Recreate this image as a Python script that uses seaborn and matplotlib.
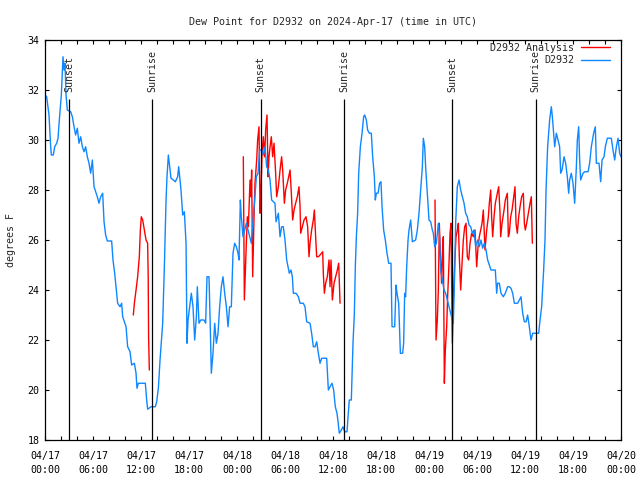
import matplotlib
matplotlib.use("Agg")
import matplotlib.pyplot as plt
import matplotlib.dates as mdates
import seaborn as sns
import pandas as pd

start = pd.Timestamp("2024-04-17 00:00")

# observed dew point at D2932 (hours after 04/17 00:00 UTC, deg F)
obs_hours = [0.0, 0.21, 0.5, 0.71, 0.79, 1.04, 1.21, 1.46, 1.63, 1.79, 2.04, 2.25, 2.38, 2.5, 2.63, 2.79,
             3.21, 3.42, 3.63, 3.83, 4.04, 4.25, 4.46, 4.67, 4.88, 5.08, 5.29, 5.5, 5.71, 5.92, 6.13, 6.33,
             6.54, 6.75, 6.96, 7.21, 7.38, 7.58, 7.79, 8.33, 8.5, 8.71, 8.92, 9.08, 9.38, 9.58, 9.71, 9.92,
             10.13, 10.33, 10.63, 10.83, 11.17, 11.38, 11.5, 11.67, 12.54, 12.71, 12.83, 13.25, 13.79, 13.96,
             14.17, 14.38, 14.71, 14.92, 15.13, 15.25, 15.42, 15.54, 15.75, 16.04, 16.29, 16.58, 16.71, 16.79,
             17.0, 17.21, 17.42, 17.63, 17.75, 17.88, 18.08, 18.29, 18.5, 18.71, 18.92, 19.04, 19.25, 19.46,
             19.88, 20.08, 20.25, 20.5, 20.67, 20.79, 21.0, 21.21, 21.42, 21.63, 21.83, 22.04, 22.25, 22.46,
             22.67, 22.88, 23.08, 23.29, 23.5, 23.71, 23.92, 24.13, 24.25, 24.42, 24.54, 24.75, 24.96, 25.17,
             25.38, 25.58, 25.79, 26.0, 26.21, 26.42, 26.63, 26.83, 27.08, 27.29, 27.5, 27.71, 27.92, 28.13,
             28.33, 28.75, 28.88, 29.17, 29.38, 29.58, 29.79, 30.0, 30.21, 30.54, 30.75, 30.92, 31.04, 31.38,
             31.67, 31.88, 32.29, 32.5, 32.71, 33.13, 33.33, 33.54, 33.75, 33.96, 34.17, 34.38, 34.58, 35.21,
             35.42, 35.63, 35.88, 36.08, 36.29, 36.5, 36.63, 36.79, 37.04, 37.25, 37.46, 37.75, 37.88, 38.04,
             38.29, 38.38, 38.5, 38.67, 38.79, 38.92, 39.08, 39.21, 39.42, 39.63, 39.83, 39.96, 40.17, 40.33,
             40.54, 40.79, 40.96, 41.17, 41.29, 41.42, 41.63, 41.83, 42.0, 42.13, 42.33, 42.54, 42.75, 42.96,
             43.25, 43.38, 43.71, 43.88, 44.0, 44.21, 44.42, 44.71, 44.83, 44.96, 45.08, 45.21, 45.38, 45.5,
             45.71, 45.92, 46.33, 46.54, 46.75, 46.96, 47.17, 47.29, 47.46, 47.58, 47.79, 48.0, 48.21, 48.42,
             48.54, 48.71, 48.92, 49.17, 49.33, 49.46, 49.67, 49.88, 50.08, 50.29, 50.5, 50.71, 50.92, 51.04,
             51.21, 51.33, 51.54, 51.75, 51.96, 52.17, 52.38, 52.58, 52.79, 53.0, 53.21, 53.42, 53.63, 53.83,
             54.08, 54.29, 54.5, 54.71, 54.92, 55.13, 55.33, 55.75, 56.29, 56.46, 56.58, 56.79, 57.0, 57.29,
             57.54, 57.83, 58.04, 58.25, 58.46, 58.67, 59.08, 59.29, 59.5, 59.71, 59.92, 60.13, 60.33, 60.54,
             60.75, 60.96, 61.71, 61.88, 62.08, 62.33, 62.5, 62.63, 62.83, 63.08, 63.29, 63.42, 63.58, 63.71,
             63.92, 64.13, 64.33, 64.46, 64.63, 64.88, 65.08, 65.29, 65.46, 65.58, 65.79, 66.0, 66.21, 66.42,
             66.54, 66.71, 66.83, 66.96, 67.25, 67.46, 67.88, 68.08, 68.29, 68.58, 68.79, 68.92, 69.25, 69.46,
             69.63, 69.88, 70.04, 70.29, 70.79, 71.0, 71.21, 71.42, 71.63, 71.83, 72.0]
obs_dewpt = [31.8, 31.73, 31.0, 29.73, 29.4, 29.4, 29.73, 29.87, 30.07, 30.8, 31.8, 33.33, 32.8, 33.07, 31.8, 31.2,
             31.13, 30.93, 30.53, 30.2, 30.47, 29.87, 30.13, 29.73, 29.53, 29.73, 29.33, 29.07, 28.67, 29.2, 28.13, 27.93,
             27.73, 27.47, 27.73, 27.87, 26.73, 26.2, 25.96, 25.96, 25.2, 24.67, 24.0, 23.47, 23.33, 23.47, 22.93, 22.73,
             22.53, 21.73, 21.53, 21.0, 21.07, 20.67, 20.07, 20.27, 20.27, 19.6, 19.23, 19.33, 19.33, 19.53,
             20.07, 21.2, 22.67, 24.93, 27.6, 28.53, 29.4, 29.07, 28.47, 28.4, 28.33, 28.53, 28.93, 28.67,
             28.0, 27.0, 27.13, 25.87, 21.87, 22.8, 23.33, 23.87, 23.33, 22.0, 22.93, 24.13, 22.67, 22.8,
             22.8, 22.67, 24.53, 24.53, 22.4, 20.67, 21.47, 22.67, 21.87, 22.27, 23.33, 24.13, 24.53, 23.87,
             23.33, 22.53, 23.33, 23.33, 25.47, 25.87, 25.73, 25.47, 25.2, 27.6, 26.93, 26.13, 26.4, 26.67,
             26.4, 26.13, 25.87, 26.8, 27.6, 28.53, 28.67, 29.6, 29.6, 29.4, 29.73, 28.93, 28.8, 28.4,
             27.6, 27.47, 26.73, 27.07, 26.13, 26.53, 26.53, 26.0, 25.2, 24.67, 24.8, 24.53, 23.87, 23.87,
             23.73, 23.47, 23.47, 23.33, 22.73, 22.67, 22.27, 21.73, 21.73, 21.93, 21.47, 21.07, 21.27, 21.27,
             20.0, 20.13, 20.27, 20.0, 19.33, 19.07, 18.73, 18.27, 18.4, 18.53, 18.33, 18.33, 18.93, 19.6,
             19.6, 20.53, 21.87, 23.07, 24.93, 26.13, 27.07, 28.67, 29.73, 30.27, 30.93, 31.0, 30.8, 30.4,
             30.27, 30.27, 29.33, 28.53, 27.6, 27.87, 27.87, 28.27, 28.33, 27.33, 26.4, 26.0, 25.47, 25.07,
             25.07, 22.53, 22.53, 24.2, 23.87, 23.47, 21.47, 21.47, 21.87, 23.87, 23.73, 24.93, 26.0, 26.4,
             26.8, 25.93, 26.0, 26.4, 27.07, 28.0, 28.93, 30.07, 29.73, 28.93, 27.87, 26.8, 26.73, 26.4,
             26.27, 25.73, 25.87, 26.67, 26.13, 24.8, 24.4, 24.0, 23.87, 23.6, 23.33, 23.07, 22.8, 22.67,
             24.67, 26.67, 28.13, 28.4, 28.0, 27.73, 27.47, 27.07, 26.93, 26.6, 26.53, 26.27, 26.4, 25.73,
             26.0, 25.73, 26.0, 25.67, 25.87, 25.6, 25.2, 24.8, 24.8, 23.87, 24.27, 24.27, 23.87, 23.73,
             23.87, 24.13, 24.13, 24.07, 23.87, 23.47, 23.47, 23.6, 23.73, 23.07, 22.73, 22.73, 23.0, 22.53,
             22.0, 22.27, 22.27, 22.8, 23.33, 24.8, 26.0, 28.0, 29.73, 30.8, 31.33, 30.93, 30.27, 29.73,
             30.27, 30.0, 29.73, 28.67, 28.8, 29.33, 29.07, 28.53, 27.87, 28.4, 28.67, 28.27, 27.47, 28.93,
             30.0, 30.53, 29.2, 28.4, 28.67, 28.73, 28.73, 29.07, 29.73, 30.27, 30.53, 29.07, 29.07, 28.33,
             29.2, 29.33, 29.73, 30.07, 30.07, 29.6, 29.2, 29.73, 30.07, 29.47, 29.33]

# analysis runs (drawn as three separate pieces)
ana1_hours = [11.04, 11.17, 11.38, 11.58, 11.79, 11.92, 12.04, 12.21, 12.42, 12.63, 12.83, 12.9, 12.95, 13.04]
ana1_dewpt = [23.0, 23.47, 24.0, 24.53, 25.33, 26.4, 26.93, 26.8, 26.4, 26.0, 25.87, 24.53, 22.13, 20.8]

ana2_hours = [24.79, 24.92, 25.08, 25.29, 25.42, 25.63, 25.75, 25.83, 25.96, 26.13, 26.25, 26.46, 26.58, 26.75,
              26.88, 27.0, 27.13, 27.29, 27.46, 27.58, 27.75, 27.88, 28.0, 28.13, 28.29, 28.46, 28.63, 28.83,
              28.96, 29.17, 29.38, 29.58, 29.71, 29.92, 30.08, 30.29, 30.46, 30.63, 30.75, 30.96, 31.13, 31.33,
              31.54, 31.75, 31.88, 31.96, 32.17, 32.38, 32.63, 32.83, 33.0, 33.13, 33.33, 33.54, 33.67, 33.83,
              33.96, 34.17, 34.38, 34.71, 34.79, 34.92, 35.08, 35.29, 35.5, 35.63, 35.75, 35.92, 36.13, 36.33,
              36.54, 36.71, 36.88]
ana2_dewpt = [29.33, 23.6, 25.07, 26.93, 26.53, 28.4, 27.73, 28.8, 24.53, 26.93, 28.27, 29.2, 30.0, 30.53,
              27.07, 28.0, 29.47, 30.13, 29.33, 30.4, 31.0, 28.53, 29.33, 29.73, 30.13, 29.33, 29.87, 28.67,
              27.73, 28.13, 28.8, 29.33, 28.8, 27.47, 28.0, 28.27, 28.53, 28.8, 28.13, 26.8, 27.2, 27.47,
              27.73, 28.13, 27.33, 26.27, 26.53, 26.8, 26.93, 26.53, 25.33, 25.87, 26.4, 26.8, 27.2, 26.13,
              25.33, 25.33, 25.4, 25.53, 24.67, 23.87, 24.27, 24.53, 25.2, 24.13, 25.2, 23.6, 24.27, 24.53,
              24.8, 25.07, 23.47]

ana3_hours = [48.75, 48.88, 49.04, 49.17, 49.29, 49.46, 49.58, 49.71, 49.79, 49.92, 50.04, 50.21, 50.33, 50.5,
              50.63, 50.75, 50.92, 51.04, 51.21, 51.38, 51.54, 51.67, 51.79, 51.96, 52.13, 52.29, 52.46, 52.63,
              52.79, 52.96, 53.13, 53.33, 53.54, 53.75, 53.96, 54.13, 54.29, 54.46, 54.63, 54.79, 55.0, 55.21,
              55.42, 55.54, 55.71, 55.83, 55.96, 56.13, 56.29, 56.54, 56.71, 56.88, 56.96, 57.13, 57.38, 57.54,
              57.79, 57.92, 58.04, 58.21, 58.38, 58.54, 58.75, 58.88, 59.04, 59.21, 59.38, 59.58, 59.79, 59.92,
              60.04, 60.21, 60.42, 60.63, 60.79, 60.92]
ana3_dewpt = [27.6, 22.0, 22.8, 24.0, 26.67, 25.07, 24.27, 25.87, 26.13, 20.27, 21.6, 22.53, 23.73, 25.07,
              26.27, 26.67, 21.87, 23.6, 25.07, 26.13, 26.4, 26.67, 25.33, 24.0, 25.07, 26.0, 26.53, 26.67,
              25.33, 25.2, 25.87, 26.27, 26.13, 26.4, 24.93, 25.73, 26.13, 26.4, 26.67, 27.2, 25.6, 26.4,
              26.93, 27.47, 28.0, 26.93, 26.13, 26.93, 27.47, 27.87, 28.13, 27.07, 26.13, 26.67, 27.2, 27.6,
              27.87, 26.13, 26.27, 26.93, 27.2, 27.6, 28.13, 26.67, 26.27, 26.93, 27.33, 27.73, 27.87, 26.67,
              26.4, 26.67, 27.07, 27.47, 27.73, 25.87]

sun_hours = [3.05, 13.4, 26.95, 37.4, 50.9, 61.35]
sun_labels = ["Sunset", "Sunrise", "Sunset", "Sunrise", "Sunset", "Sunrise"]

xtick_labels = ["04/17\n00:00", "04/17\n06:00", "04/17\n12:00", "04/17\n18:00",
                "04/18\n00:00", "04/18\n06:00", "04/18\n12:00", "04/18\n18:00",
                "04/19\n00:00", "04/19\n06:00", "04/19\n12:00", "04/19\n18:00",
                "04/20\n00:00"]

obs = pd.DataFrame({"time": start + pd.to_timedelta(obs_hours, unit="h"), "dewpt": obs_dewpt})
ana = pd.concat([
    pd.DataFrame({"hours": h, "dewpt": v, "run": i})
    for i, (h, v) in enumerate([(ana1_hours, ana1_dewpt), (ana2_hours, ana2_dewpt), (ana3_hours, ana3_dewpt)])
], ignore_index=True)
ana["time"] = start + pd.to_timedelta(ana["hours"], unit="h")

sns.set_style("ticks")
plt.rcParams["font.family"] = ["DejaVu Sans Mono"]
fs = 7.2

fig = plt.figure(figsize=(6.4, 4.8), dpi=100)
ax = fig.add_axes([45 / 640, 40 / 480, 576 / 640, 400 / 480])

sns.lineplot(data=ana, x="time", y="dewpt", units="run", estimator=None, sort=False,
             color="#ff0000", lw=1.0, label="D2932 Analysis", ax=ax, legend=False)
sns.lineplot(data=obs, x="time", y="dewpt", estimator=None, sort=False,
             color="#0f87ff", lw=1.0, label="D2932", ax=ax, legend=False)

# sunrise / sunset markers
sun_times = [start + pd.Timedelta(hours=h) for h in sun_hours]
ax.vlines(sun_times, 18, 31.64, color="black", lw=0.9)
for t, lab in zip(sun_times, sun_labels):
    ax.text(mdates.date2num(t), 31.93, lab, rotation=90, ha="center", va="bottom", fontsize=fs)

ax.set_xlim(start, start + pd.Timedelta(hours=72))
ax.set_ylim(18, 34)
ax.set_yticks(range(18, 35, 2))
ax.set_xticks([start + pd.Timedelta(hours=h) for h in range(0, 73, 6)], labels=xtick_labels)
ax.set_xticks([start + pd.Timedelta(hours=h) for h in range(0, 73, 2)], minor=True)
for lab in ax.get_xticklabels():
    lab.set_linespacing(1.5)

ax.tick_params(which="both", direction="in", length=3, width=0.8, top=True, right=True,
               labelsize=fs, colors="black")
ax.tick_params(axis="x", pad=8)
ax.tick_params(axis="y", pad=4)
for sp in ax.spines.values():
    sp.set_visible(True)
    sp.set_linewidth(0.9)
    sp.set_color("black")

ax.set_xlabel("")
ax.set_ylabel("degrees F", fontsize=fs, labelpad=8)
ax.set_title("Dew Point for D2932 on 2024-Apr-17 (time in UTC)", fontsize=fs, pad=11)

handles, labels = ax.get_legend_handles_labels()
uniq = dict(zip(labels, handles))
ax.legend(list(uniq.values()), list(uniq.keys()), loc="upper right",
          bbox_to_anchor=(1 - 11 / 576, 1 - 3 / 400), frameon=False, markerfirst=False,
          fontsize=fs, handlelength=2.9, handletextpad=0.7, borderpad=0, borderaxespad=0,
          labelspacing=0.25)

fig.savefig("out.png", dpi=100)
